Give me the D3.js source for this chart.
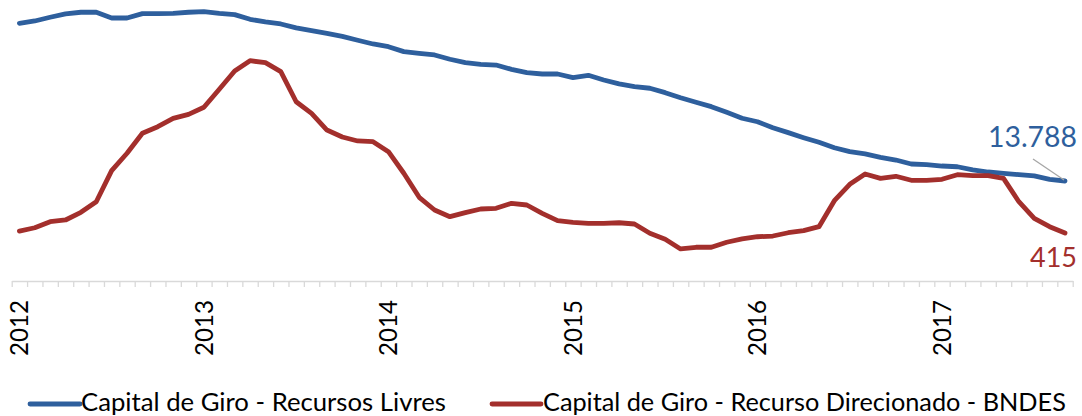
<!DOCTYPE html>
<html>
<head>
<meta charset="utf-8">
<script src="https://cdn.jsdelivr.net/npm/d3@7.9.0/dist/d3.min.js"></script>
<style>
  html, body { margin: 0; padding: 0; background: #fff; }
  svg { display: block; font-family: Lato, "Open Sans", sans-serif; }
</style>
</head>
<body>
<svg id="chart" width="1082" height="416"></svg>
<script>
// monthly, Jan 2012 .. Sep 2017
const startYear = 2012;
const years = [2012, 2013, 2014, 2015, 2016, 2017];

const livres = [
  26970, 27160, 27470, 27750, 27890, 27890, 27410, 27410, 27770, 27770, 27800, 27890,
  27940, 27800, 27690, 27300, 27080, 26910, 26580, 26350, 26130, 25870, 25550, 25240,
  25010, 24600, 24460, 24320, 23960, 23680, 23540, 23480, 23120, 22840, 22730, 22730,
  22420, 22620, 22230, 21900, 21670, 21540, 21170, 20750, 20370, 20000, 19530, 19030,
  18740, 18240, 17830, 17410, 17020, 16570, 16240, 16050, 15770, 15540, 15210, 15150,
  15040, 14980, 14710, 14540, 14430, 14320, 14210, 13930, 13788
];

const bndes = [
  437, 474, 542, 561, 647, 766, 1114, 1309, 1533, 1607, 1701, 1746,
  1825, 2027, 2232, 2347, 2325, 2224, 1887, 1757, 1570, 1492, 1447, 1439,
  1327, 1085, 815, 673, 598, 643, 684, 692, 748, 729, 636, 553,
  535, 524, 524, 530, 516, 412, 344, 236, 255, 255, 311, 348,
  373, 381, 418, 441, 486, 777, 961, 1077, 1028, 1051, 1006, 1006,
  1017, 1069, 1058, 1058, 1028, 766, 580, 486, 415
];

const seriesNames = ['Capital de Giro - Recursos Livres', 'Capital de Giro - Recurso Direcionado - BNDES'];
const colors = ['#2e5f9d', '#a32f2c'];

const svg = d3.select('#chart');
const n = livres.length;

// x: one band per month, the line runs through the band centres
const x = d3.scaleLinear().domain([-0.5, n - 0.5]).range([11.7, 1072.7]);
const yL = d3.scaleLinear().domain([0, 30000]).range([346, -13]);   // livres (hidden axis)
const yB = d3.scaleLinear().domain([0, 3000]).range([270, 2.5]);    // bndes (hidden axis)
const axisY = 281;

function fit(sel, target) {
  const w = sel.node().getComputedTextLength();
  const fs = parseFloat(sel.attr('font-size'));
  sel.attr('font-size', (fs * target / w).toFixed(2));
}

// axis with a tick between each month
const xAxis = svg.append('g')
  .attr('transform', `translate(0,${axisY})`)
  .call(d3.axisBottom(x).tickValues(d3.range(n + 1).map(i => i - 0.5)).tickSize(6).tickSizeOuter(0).tickFormat(''));
xAxis.select('.domain').attr('stroke', '#d9d9d9').attr('stroke-width', 1.3);
xAxis.selectAll('.tick line').attr('stroke', '#d9d9d9').attr('stroke-width', 1.3);

// year labels, rotated
years.forEach(yr => {
  const i = (yr - startYear) * 12;
  const t = svg.append('text')
    .attr('transform', `translate(${x(i)},300) rotate(-90)`)
    .attr('text-anchor', 'end')
    .attr('dy', '0.36em')
    .attr('font-size', 24)
    .attr('fill', '#000')
    .text(yr);
  fit(t, 56);
});

// lines
const lineL = d3.line().x((d, i) => x(i)).y(d => yL(d));
const lineB = d3.line().x((d, i) => x(i)).y(d => yB(d));

svg.append('path').datum(livres)
  .attr('fill', 'none').attr('stroke', colors[0]).attr('stroke-width', 4.8)
  .attr('stroke-linejoin', 'round').attr('stroke-linecap', 'round')
  .attr('d', lineL);
svg.append('path').datum(bndes)
  .attr('fill', 'none').attr('stroke', colors[1]).attr('stroke-width', 4.8)
  .attr('stroke-linejoin', 'round').attr('stroke-linecap', 'round')
  .attr('d', lineB);

// end labels
const lastX = x(n - 1);
const fmt = v => d3.format(',')(v).replace(/,/g, '.');

svg.append('line')
  .attr('x1', lastX - 32).attr('y1', yL(livres[n - 1]) - 22)
  .attr('x2', lastX - 1).attr('y2', yL(livres[n - 1]) - 1)
  .attr('stroke', '#a6a6a6').attr('stroke-width', 1.3);

const lblL = svg.append('text')
  .attr('x', lastX + 12).attr('y', yL(livres[n - 1]) - 34)
  .attr('text-anchor', 'end').attr('font-size', 30)
  .attr('fill', colors[0]).text(fmt(livres[n - 1]));
fit(lblL, 89);

const lblB = svg.append('text')
  .attr('x', lastX + 12).attr('y', yB(bndes[n - 1]) + 34)
  .attr('text-anchor', 'end').attr('font-size', 30)
  .attr('fill', colors[1]).text(fmt(bndes[n - 1]));
fit(lblB, 47);

// legend
const legend = [
  { name: seriesNames[0], color: colors[0], x0: 30, x1: 80, tx: 81, w: 365 },
  { name: seriesNames[1], color: colors[1], x0: 492, x1: 541, tx: 543, w: 523 }
];
legend.forEach(d => {
  svg.append('line')
    .attr('x1', d.x0).attr('x2', d.x1).attr('y1', 404).attr('y2', 404)
    .attr('stroke', d.color).attr('stroke-width', 4.8).attr('stroke-linecap', 'round');
  const t = svg.append('text')
    .attr('x', d.tx).attr('y', 411)
    .attr('font-size', 24).attr('fill', '#000')
    .text(d.name);
  fit(t, d.w);
});
</script>
</body>
</html>
